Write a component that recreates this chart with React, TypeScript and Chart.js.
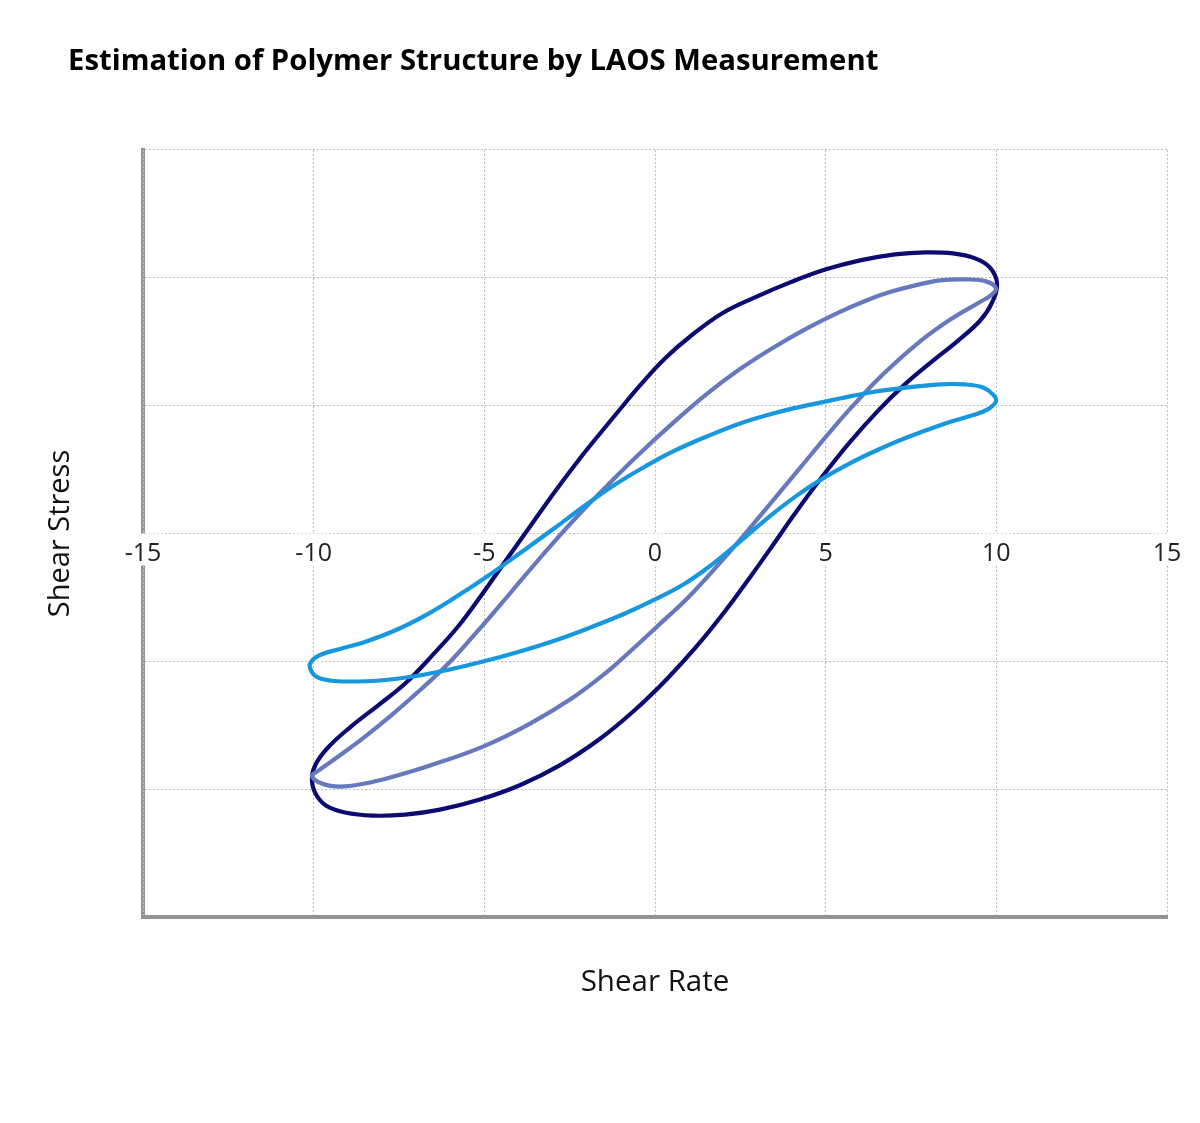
import React, { useEffect, useRef } from "react";
import { Chart, registerables } from "chart.js";

Chart.register(...registerables);

const TITLE = "Estimation of Polymer Structure by LAOS Measurement";
const X_TITLE = "Shear Rate";
const Y_TITLE = "Shear Stress";
const X_TICKS = [-15, -10, -5, 0, 5, 10, 15];

// Series 1 (navy) – closed loop, from the right tip along the upper branch, back along the lower branch
const darkX = [10.02, 9.81, 9.38, 8.73, 7.91, 7.03, 6.01, 5.01, 3.96, 2.93, 1.96, 1.03, 0.29, -0.44, -1.03, -1.61, -2.20, -2.93, -3.66, -4.37, -5.07, -5.77, -6.53, -7.32, -8.12, -8.94, -9.58, -9.93, -10.05,
  -9.96, -9.64, -9.08, -8.26, -7.32, -6.30, -5.13, -3.96, -2.78, -1.61, -0.59, 0.35, 1.23, 2.05, 2.78, 3.43, 4.10, 4.83, 5.71, 6.53, 7.32, 8.12, 8.88, 9.52, 9.87];
const darkY = [1.956, 2.081, 2.152, 2.191, 2.199, 2.183, 2.136, 2.066, 1.964, 1.847, 1.721, 1.541, 1.369, 1.158, 0.970, 0.782, 0.587, 0.329, 0.055, -0.211, -0.477, -0.728, -0.955, -1.174, -1.346, -1.518, -1.674, -1.800, -1.909,
  -2.027, -2.128, -2.183, -2.207, -2.199, -2.160, -2.081, -1.969, -1.812, -1.606, -1.381, -1.138, -0.880, -0.609, -0.344, -0.100, 0.156, 0.420, 0.714, 0.959, 1.166, 1.346, 1.509, 1.664, 1.804];

// Series 2 (slate blue)
const purpleX = [9.99, 9.70, 9.11, 8.35, 7.62, 6.88, 6.21, 5.42, 4.45, 3.46, 2.49, 1.52, 0.53, -0.44, -1.32, -2.20, -3.02, -3.81, -4.54, -5.27, -6.01, -6.83, -7.71, -8.58, -9.38, -9.87, -10.05,
  -9.76, -9.23, -8.50, -7.76, -6.59, -5.04, -3.66, -2.40, -1.46, -0.73, 0.00, 1.03, 2.11, 3.08, 4.25, 5.01, 5.74, 6.68, 7.68, 8.64, 9.52, 9.84];
const purpleY = [1.917, 1.972, 1.987, 1.980, 1.941, 1.888, 1.825, 1.734, 1.605, 1.453, 1.286, 1.092, 0.865, 0.628, 0.397, 0.156, -0.085, -0.330, -0.561, -0.786, -1.005, -1.213, -1.419, -1.607, -1.764, -1.857, -1.898,
  -1.956, -1.980, -1.956, -1.909, -1.815, -1.667, -1.487, -1.283, -1.095, -0.923, -0.743, -0.485, -0.167, 0.138, 0.513, 0.757, 0.982, 1.245, 1.484, 1.671, 1.811, 1.863];

// Series 3 (light blue)
const lightX = [9.99, 9.90, 9.61, 9.08, 8.35, 7.18, 6.30, 5.42, 4.45, 3.46, 2.49, 1.52, 0.53, -0.29, -1.17, -2.05, -2.93, -3.96, -4.92, -5.86, -6.74, -7.62, -8.50, -9.23, -9.76, -10.05, -10.11,
  -9.93, -9.52, -8.94, -8.06, -7.09, -6.01, -5.04, -3.96, -2.93, -1.90, -0.88, 0.00, 0.88, 1.67, 2.49, 3.22, 4.10, 4.92, 5.71, 6.50, 7.32, 8.44, 9.32, 9.76];
const lightY = [1.033, 1.088, 1.142, 1.166, 1.166, 1.135, 1.103, 1.056, 1.002, 0.939, 0.861, 0.759, 0.642, 0.524, 0.383, 0.219, 0.045, -0.155, -0.336, -0.501, -0.642, -0.759, -0.848, -0.903, -0.945, -0.994, -1.049,
  -1.119, -1.150, -1.158, -1.150, -1.119, -1.064, -1.002, -0.923, -0.837, -0.736, -0.626, -0.516, -0.391, -0.243, -0.063, 0.103, 0.286, 0.431, 0.549, 0.651, 0.745, 0.855, 0.926, 0.973];

const DARK = "#0b0b72";
const PURPLE = "#6679bd";
const LIGHT = "#1797de";

function points(xs: number[], ys: number[]) {
  return xs.map((x, i) => ({ x, y: ys[i] }));
}

// Close every dataset line into a smooth loop (the same flags Chart.js sets for radar lines)
const closedLoops = {
  id: "closedLoops",
  afterDatasetUpdate(chart: any, args: any) {
    const meta = chart.getDatasetMeta(args.index);
    if (meta && meta.dataset) {
      meta.dataset._loop = true;
      meta.dataset._fullLoop = true;
      delete meta.dataset._segments;
      delete meta.dataset._path;
      meta.dataset._pointsUpdated = false;
    }
  },
};

export default function App() {
  const ref = useRef<HTMLCanvasElement>(null);

  useEffect(() => {
    document.body.style.margin = "0";
    Chart.defaults.font.family = "'Open Sans', sans-serif";
    const canvas = ref.current!;
    const line = {
      showLine: true,
      fill: false,
      borderWidth: 4.2,
      pointRadius: 0,
      pointHoverRadius: 0,
      tension: 0.4,
    };
    const gridOpts = { color: "#bdbdbd", lineWidth: 1, drawTicks: false };
    const borderOpts = { display: true, color: "#939393", width: 4, dash: [2, 2], z: -1 };
    const chart = new Chart(canvas, {
      type: "scatter",
      plugins: [closedLoops],
      data: {
        datasets: [
          { label: "C", data: points(lightX, lightY), borderColor: LIGHT, ...line },
          { label: "B", data: points(purpleX, purpleY), borderColor: PURPLE, ...line },
          { label: "A", data: points(darkX, darkY), borderColor: DARK, ...line },
        ],
      },
      options: {
        responsive: false,
        animation: false,
        devicePixelRatio: 1,
        layout: { padding: { left: 68, right: 33, top: 0, bottom: 106 } },
        plugins: {
          legend: { display: false },
          tooltip: { enabled: false },
          title: {
            display: true,
            text: TITLE,
            align: "start",
            color: "#000",
            font: { family: "'Open Sans', sans-serif", size: 29.3, weight: "bold" },
            padding: { top: 44, bottom: 70.8 },
          },
        },
        scales: {
          y: {
            type: "linear",
            position: "left",
            min: -3,
            max: 3,
            ticks: { display: false, stepSize: 1 },
            grid: gridOpts,
            border: borderOpts,
            title: {
              display: true,
              text: Y_TITLE,
              color: "#111",
              font: { size: 29 },
              padding: { top: -25, bottom: 0 },
            },
            afterFit: (s: any) => {
              s.width = 75;
            },
          },
          x: {
            type: "linear",
            position: "bottom",
            min: -15,
            max: 15,
            ticks: { display: false, stepSize: 5 },
            grid: gridOpts,
            border: borderOpts,
            title: {
              display: true,
              text: X_TITLE,
              color: "#111",
              font: { size: 29.5 },
              padding: { top: 0, bottom: 17 },
            },
            afterFit: (s: any) => {
              s.height = 100;
            },
          },
          x2: {
            type: "linear",
            axis: "x",
            position: { y: 0 },
            min: -15,
            max: 15,
            afterBuildTicks: (s: any) => {
              s.ticks = X_TICKS.map((v) => ({ value: v }));
            },
            ticks: {
              color: "#222",
              font: { size: 25 },
              padding: 5,
              showLabelBackdrop: true,
              backdropColor: "#ffffff",
              backdropPadding: { top: 5, bottom: -3, left: 2, right: 2 },
            },
            grid: { display: false, drawTicks: false },
            border: { display: false },
            afterFit: (s: any) => {
              s.height = 0;
            },
          },
        },
      } as any,
    });
    return () => chart.destroy();
  }, []);

  return <canvas ref={ref} width={1200} height={1123} style={{ display: "block" }} />;
}
